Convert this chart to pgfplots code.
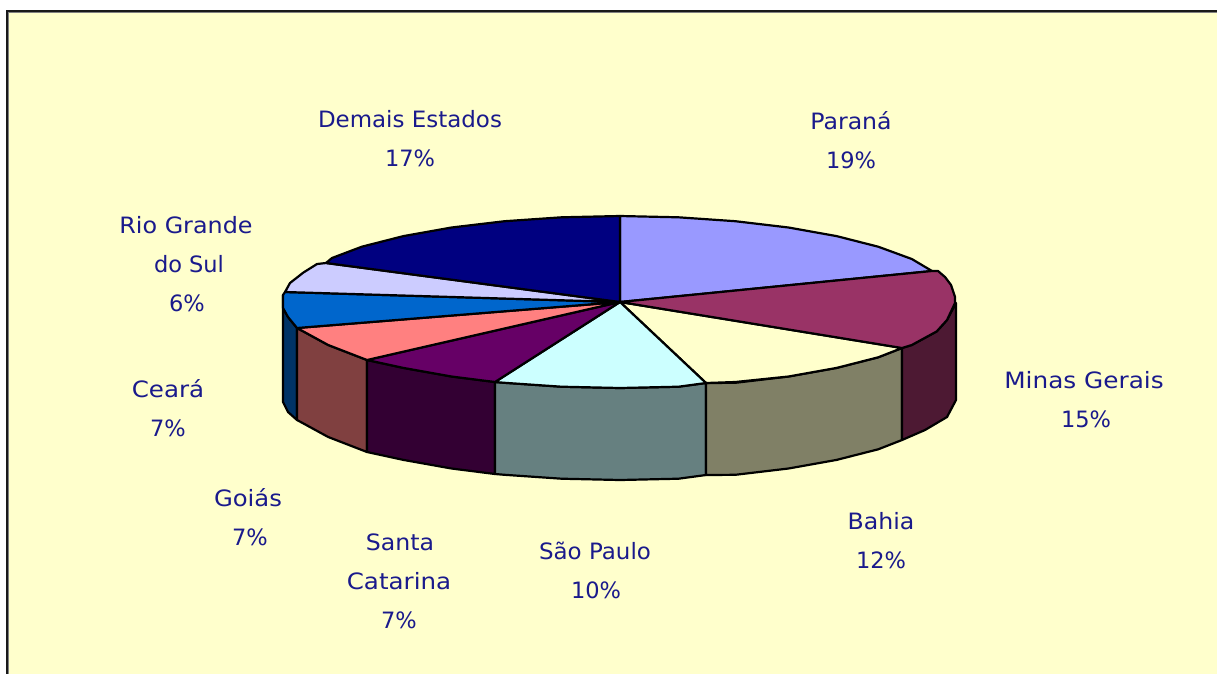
\documentclass[border=0pt]{standalone}
\usepackage{pgfplots}
\pgfplotsset{compat=1.18}
\usepackage{fontspec}
\setmainfont{DejaVu Sans}
\definecolor{lab}{HTML}{1A1A8C}
\definecolor{bg}{HTML}{FFFFCC}
\newcommand{\lbl}[4][1]{\node[text=lab,anchor=base,inner sep=0pt] at (axis cs:#2,#3) {\scalebox{#1}[1]{\fontsize{22.5}{22.5}\selectfont #4}};}
\begin{document}
\begin{tikzpicture}
\begin{axis}[
  scale only axis, width=1217pt, height=673pt,
  xmin=0, xmax=1217, ymin=0, ymax=673, y dir=reverse,
  axis lines=none, clip=true,
  every axis plot/.append style={line width=2.2pt, line join=round, draw=black, mark=none},
]
% page and frame
\addplot[fill=white,draw=none] coordinates {(0,0)(1217,0)(1217,673)(0,673)(0,0)};
\addplot[fill=black!90,draw=none] coordinates {(6,10)(1220,10)(1220,680)(6,680)(6,10)};
\addplot[fill=gray,draw=none] coordinates {(8,12)(1220,12)(1220,680)(8,680)(8,12)};
\addplot[fill=bg,draw=none] coordinates {(9,13)(1220,13)(1220,680)(9,680)(9,13)};
% side walls
\addplot[fill={rgb,255:red,0;green,51;blue,102}] coordinates {(283,295)(283,402)(288,412)(297,420)(297,328)(288,317)(283,308)(283,295)};
\addplot[fill={rgb,255:red,128;green,64;blue,64}] coordinates {(297,328)(303.3,331.4)(328.2,345)(367,360)(367,452)(328.2,437)(303.3,423.4)(297,420)(297,328)};
\addplot[fill={rgb,255:red,51;green,0;blue,51}] coordinates {(367,360)(403.4,367.9)(451.5,376.5)(495,382)(495,474)(451.5,468.5)(403.4,459.9)(367,452)(367,360)};
\addplot[fill={rgb,255:red,102;green,128;blue,128}] coordinates {(495,382)(504.7,382.8)(561.5,386.7)(620,388)(678.5,386.7)(706,383)(706,475)(678.5,478.7)(620,480)(561.5,478.7)(504.7,474.8)(495,474)(495,382)};
\addplot[fill={rgb,255:red,128;green,128;blue,102}] coordinates {(706,383)(735.3,382.8)(788.5,376.5)(836.6,367.9)(878.2,357.3)(902,348)(902,440)(878.2,449.3)(836.6,459.9)(788.5,468.5)(735.3,474.8)(706,475)(706,383)};
\addplot[fill={rgb,255:red,77;green,25;blue,51}] coordinates {(902,348)(911.8,345)(936.7,331.4)(947,320)(956,303)(956,400)(947,417)(925,430)(902,440)(902,348)};
% top slices
\addplot[fill={rgb,255:red,153;green,153;blue,255}] coordinates {(620,302)(620,216)(678.5,217.3)(735.3,221.2)(788.5,227.5)(836.6,236.1)(878.2,246.7)(911.8,259)(932,271)(620,302)};
\addplot[fill={rgb,255:red,255;green,255;blue,204}] coordinates {(620,302)(902,348)(878.2,357.3)(836.6,367.9)(788.5,376.5)(735.3,382)(706,383)(620,302)};
\addplot[fill={rgb,255:red,153;green,51;blue,102}] coordinates {(620,302)(932,271)(938,271)(945,277)(951,285)(955,297)(955,303)(947,320)(936.7,331.4)(911.8,345)(902,348)(620,302)};
\addplot[fill={rgb,255:red,204;green,255;blue,255}] coordinates {(620,302)(706,383)(678.5,386.7)(620,388)(561.5,386.7)(504.7,382.8)(495,382)(620,302)};
\addplot[fill={rgb,255:red,102;green,0;blue,102}] coordinates {(620,302)(495,382)(451.5,376.5)(403.4,367.9)(367,360)(620,302)};
\addplot[fill={rgb,255:red,255;green,128;blue,128}] coordinates {(620,302)(367,360)(328.2,345)(303.3,331.4)(297,328)(620,302)};
\addplot[fill={rgb,255:red,0;green,102;blue,204}] coordinates {(620,302)(297,328)(288,317)(283,308)(283,295)(285,292)(620,302)};
\addplot[fill={rgb,255:red,204;green,204;blue,255}] coordinates {(620,302)(285,292)(290,283)(303.3,272.6)(317,264)(326,263)(620,302)};
\addplot[fill={rgb,255:red,0;green,0;blue,128}] coordinates {(620,302)(326,263)(332,258)(361.8,246.7)(403.4,236.1)(451.5,227.5)(504.7,221.2)(561.5,217.3)(620,216)(620,302)};
% labels
\lbl[1.02]{410}{127}{Demais Estados}
\lbl{410}{166}{17\%}
\lbl[1.05]{851}{129}{Paraná}
\lbl{851}{168}{19\%}
\lbl[1.06]{186}{233}{Rio Grande}
\lbl{189}{272}{do Sul}
\lbl{187}{311}{6\%}
\lbl[1.10]{1084}{388}{Minas Gerais}
\lbl{1086}{427}{15\%}
\lbl[1.09]{168}{397}{Ceará}
\lbl{168}{436}{7\%}
\lbl[1.05]{881}{529}{Bahia}
\lbl{881}{568}{12\%}
\lbl[1.08]{248}{506}{Goiás}
\lbl{250}{545}{7\%}
\lbl[1.05]{400}{550}{Santa}
\lbl[1.09]{399}{589}{Catarina}
\lbl{399}{628}{7\%}
\lbl[1.02]{595}{559}{São Paulo}
\lbl{596}{598}{10\%}
\end{axis}
\end{tikzpicture}
\end{document}
